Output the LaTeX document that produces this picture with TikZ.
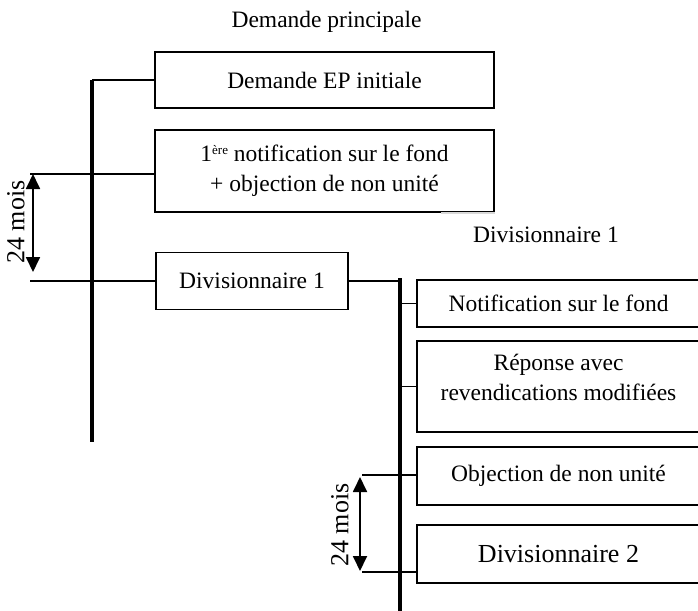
\documentclass[tikz,border=0pt]{standalone}
\usepackage{fontspec}
\setmainfont{Liberation Serif}
\usetikzlibrary{positioning,arrows.meta}

\begin{document}
\begin{tikzpicture}[x=1pt,y=-1pt,
        every node/.style={font=\fontsize{23.5}{30}\selectfont},
        box/.style={draw,line width=1.8pt,inner sep=0pt,align=center},
        thin/.style={line width=1.8pt},
        bar/.style={line width=4pt},
        span/.style={line width=1.8pt,{Triangle[length=15pt,width=14pt]}-{Triangle[length=15pt,width=14pt]}}]
        \useasboundingbox (0,0) rectangle (698,610);
        \clip (0,0) rectangle (698,610);
        % Demande principale
        \node (titre1) at (326.5,22) {Demande principale};
        \node[box,minimum width=339pt,minimum height=56pt] (initiale) at (324.5,80) {Demande EP initiale};
        \node[box,minimum width=339pt,minimum height=82pt] (notif) at (324.5,171)
            {1{\fontsize{13}{13}\selectfont\raisebox{7pt}{ère}} notification sur le fond\\+ objection de non unité};
        \draw[gray!30,line width=1.8pt] ([xshift=-54pt]notif.south east) -- (notif.south east);
        \node[box,minimum width=192pt,minimum height=57pt] (div1) at (252,281) {Divisionnaire 1};
        \coordinate (b1top) at (92,80);
        \coordinate (b1bot) at (92,442);
        \draw[bar] (b1top) -- (b1bot);
        \draw[thin] (b1top) -- (initiale.west);
        \coordinate (m1) at (30,174);
        \coordinate (m2) at (30,281);
        \draw[thin] (m1) -- (m1 -| notif.west);
        \draw[thin] (m2) -- (div1.west);
        \coordinate (s1a) at (33,174);
        \coordinate (s1b) at (33,272);
        \draw[span] (s1a) -- (s1b);
        \node[rotate=90,font=\fontsize{26}{30}\selectfont] (mois1) at (16,222) {24 mois};

        % Divisionnaire 1
        \node (titre2) at (546,235) {Divisionnaire 1};
        \coordinate (b2top) at (400,278);
        \coordinate (b2bot) at (400,614);
        \draw[bar] (b2top) -- (b2bot);
        \draw[thin] (div1.east) -- (div1.east -| b2top);
        \node[box,minimum width=283pt,minimum height=47pt] (fond) at (558.5,303.5) {Notification sur le fond};
        \node[box,minimum width=283pt,minimum height=91pt] (reponse) at (558.5,386.5) {};
        \node[align=center] (reptxt) at (558.5,377.5) {Réponse avec\\revendications modifiées};
        \node[box,minimum width=283pt,minimum height=58pt] (objection) at (558.5,476) {Objection de non unité};
        \node[box,minimum width=283pt,minimum height=58pt,font=\fontsize{26}{30}\selectfont] (div2) at (558.5,554) {Divisionnaire 2};
        \draw[thin] (fond.west -| b2top) -- (fond.west);
        \draw[thin] (reponse.west -| b2top) -- (reponse.west);
        \coordinate (m3) at (362,475);
        \coordinate (m4) at (362,572);
        \draw[thin] (m3) -- (m3 -| objection.west);
        \draw[thin] (m4) -- (m4 -| div2.west);
        \coordinate (s2a) at (360,477);
        \coordinate (s2b) at (360,571);
        \draw[span] (s2a) -- (s2b);
        \node[rotate=90,font=\fontsize{26}{30}\selectfont] (mois2) at (340,525) {24 mois};
\end{tikzpicture}
\end{document}
